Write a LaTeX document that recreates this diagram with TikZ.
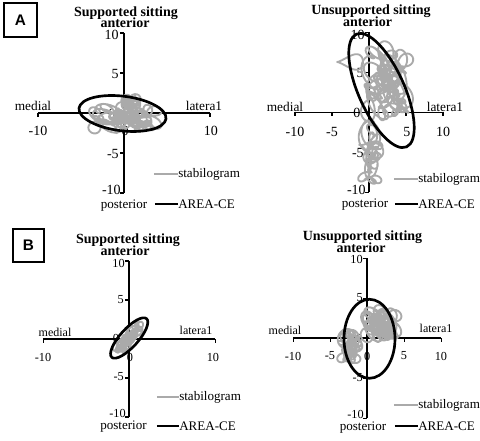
\documentclass[tikz,border=0pt]{standalone}
\usepackage{fontspec}
\setmainfont{Liberation Serif}
\newfontfamily\boxfont{Liberation Sans}
\definecolor{stabgray}{RGB}{170,170,170}
\begin{document}
\begin{tikzpicture}[x=0.75pt,y=-0.75pt,
  axisline/.style={line width=1.3pt, black},
  tickmark/.style={line width=1.1pt, black},
  stab/.style={stabgray, line width=1.4pt, line join=round},
  areace/.style={black, line width=2pt},
  legstab/.style={stabgray, line width=1.6pt},
  legarea/.style={black, line width=2.2pt},
  ticklbl/.style={font=\fontsize{10.5}{12}\selectfont, inner sep=0pt},
  ticklblb/.style={font=\fontsize{9.2}{10}\selectfont, inner sep=0pt},
  dirlbl/.style={font=\fontsize{10}{12}\selectfont, inner sep=0pt},
  dirlblb/.style={font=\fontsize{9}{10}\selectfont, inner sep=0pt},
  ttl/.style={font=\bfseries\fontsize{10.5}{12}\selectfont, inner sep=0pt},
  leg/.style={font=\fontsize{9.8}{11}\selectfont, inner sep=0pt},
  letterbox/.style={draw, line width=1.3pt, inner sep=0pt, font=\boxfont\bfseries\fontsize{11.5}{12}\selectfont}
]
\useasboundingbox (0,0) rectangle (480,441);

% ---------- letter boxes ----------
\node[letterbox, minimum width=24.75pt, minimum height=25.5pt] (boxA) at (20.5,20) {A};
\node[letterbox, minimum width=23.25pt, minimum height=24.75pt] (boxB) at (28.5,245.5) {B};

% =================== Panel A left ===================
\draw[axisline] (38,113) -- (210,113);
\draw[axisline] (124,33) -- (124,193);
\foreach \yy in {33,73,113,153,193} \draw[tickmark] (120,\yy) -- (124,\yy);
\foreach \xx in {38,210} \draw[tickmark] (\xx,113) -- (\xx,117);
\node[ticklbl, anchor=east] (al-y10) at (119,35) {10};
\node[ticklbl, anchor=east] (al-y5) at (119,74) {5};
\node[ticklbl] (al-y0) at (112,114) {0};
\node[ticklbl, anchor=east] (al-ym5) at (119,154) {-5};
\node[ticklbl, anchor=east] (al-ym10) at (121,190) {-10};
\node[ticklbl] (al-xm10) at (38,131) {-10};
\node[ticklbl] (al-x0) at (125,131) {0};
\node[ticklbl] (al-x10) at (211,131) {10};
\node[dirlbl] (al-med) at (33,106) {medial};
\node[dirlbl] (al-lat) at (204,106) {latera1};
\node[ttl] (al-t1) at (126,13) {Supported sitting};
\node[ttl] (al-t2) at (125,23) {anterior};
\node[leg] (al-post) at (124,206) {posterior};
\node[leg, anchor=west] (al-ls) at (178,174) {stabilogram};
\node[leg, anchor=west] (al-la) at (178,204) {AREA-CE};
\coordinate (al-ls0) at (154,174);
\coordinate (al-la0) at (155,204);
\draw[legstab] (al-ls0) -- (al-ls.west);
\draw[legarea] (al-la0) -- (al-la.west);
\draw[stab] plot[smooth, samples=900, domain=0:5000, variable=\t]
  ({125+32*(0.6*sin(0.37*\t)+0.4*sin(0.83*\t+30))+6*cos(3.1*\t)},
   {118+11*(0.6*sin(0.51*\t+60)+0.4*sin(1.13*\t))+5*sin(3.1*\t+20)});
\draw[stab] plot[smooth, samples=300, domain=0:1800, variable=\t]
  ({130+7*(0.6*sin(0.7*\t)+0.4*sin(1.3*\t))+4*cos(4.1*\t)},
   {102+4*(0.6*cos(0.9*\t)+0.4*sin(1.7*\t))+4*sin(4.1*\t)});
\draw[areace, rotate around={-7:(122.5,113.5)}] (122.5,113.5) ellipse [x radius=43.8, y radius=17.3];

% =================== Panel A right ===================
\draw[axisline] (295,112.5) -- (443,112.5);
\draw[axisline] (369,32.5) -- (369,192.5);
\foreach \yy in {32.5,72.5,112.5,152.5,192.5} \draw[tickmark] (365,\yy) -- (369,\yy);
\foreach \xx in {295,332,406,443} \draw[tickmark] (\xx,112.5) -- (\xx,116.5);
\node[ticklbl, anchor=east] (ar-y10) at (365,35) {10};
\node[ticklbl, anchor=east] (ar-y5) at (364,73) {5};
\node[ticklbl] (ar-y0) at (357,113) {0};
\node[ticklbl, anchor=east] (ar-ym5) at (364,153) {-5};
\node[ticklbl, anchor=east] (ar-ym10) at (366,190) {-10};
\node[ticklbl] (ar-xm10) at (295,132) {-10};
\node[ticklbl] (ar-xm5) at (332,132) {-5};
\node[ticklbl] (ar-x5) at (407,132) {5};
\node[ticklbl] (ar-x10) at (443,132) {10};
\node[dirlbl] (ar-med) at (285,107) {medial};
\node[dirlbl] (ar-lat) at (445,107) {latera1};
\node[ttl] (ar-t1) at (371,11.5) {Unsupported sitting};
\node[ttl] (ar-t2) at (367.5,21.5) {anterior};
\node[leg] (ar-post) at (365,205) {posterior};
\node[leg, anchor=west] (ar-ls) at (418,179) {stabilogram};
\node[leg, anchor=west] (ar-la) at (418,204) {AREA-CE};
\coordinate (ar-ls0) at (394,179);
\coordinate (ar-la0) at (395,204);
\draw[legstab] (ar-ls0) -- (ar-ls.west);
\draw[legarea] (ar-la0) -- (ar-la.west);
\draw[stab] plot[smooth, samples=900, domain=0:5000, variable=\t]
  ({387+20*(0.6*sin(0.37*\t)+0.4*sin(0.83*\t+30))+7*cos(3.1*\t)},
   {82+34*(0.6*sin(0.51*\t+60)+0.4*sin(1.13*\t))+7*sin(3.1*\t+20)});
\draw[stab] plot[smooth, samples=400, domain=0:2200, variable=\t]
  ({371+8*(0.6*sin(0.6*\t)+0.4*sin(1.3*\t+20))+5*cos(3.3*\t)},
   {152+32*(0.6*sin(0.45*\t+20)+0.4*sin(1.1*\t))+5*sin(3.3*\t)});
\draw[stab] plot[smooth, samples=80, domain=0:360, variable=\t]
  ({350+13*cos(\t)}, {62+6*sin(\t)+3*sin(2*\t)});
\draw[areace, rotate around={24:(381.5,90.5)}] (381.5,90.5) ellipse [x radius=23, y radius=61.7];

% =================== Panel B left ===================
\draw[axisline] (43.3,339) -- (215.3,339);
\draw[axisline] (129.3,261) -- (129.3,417);
\foreach \yy in {261,300,339,378,417} \draw[tickmark] (125.3,\yy) -- (129.3,\yy);
\foreach \xx in {43.3,215.3} \draw[tickmark] (\xx,339) -- (\xx,343);
\node[ticklblb, anchor=east] (bl-y10) at (125,263) {10};
\node[ticklblb, anchor=east] (bl-y5) at (124,300) {5};
\node[ticklblb] (bl-y0) at (116,338) {0};
\node[ticklblb, anchor=east] (bl-ym5) at (124,377) {-5};
\node[ticklblb, anchor=east] (bl-ym10) at (126,413) {-10};
\node[ticklblb] (bl-xm10) at (43,357) {-10};
\node[ticklblb] (bl-x0) at (130,357) {0};
\node[ticklblb] (bl-x10) at (213,357) {10};
\node[dirlblb] (bl-med) at (55,332) {medial};
\node[dirlblb] (bl-lat) at (196,330) {latera1};
\node[ttl] (bl-t1) at (128,240.5) {Supported sitting};
\node[ttl] (bl-t2) at (125,250.5) {anterior};
\node[leg] (bl-post) at (123.5,427) {posterior};
\node[leg, anchor=west] (bl-ls) at (179,397) {stabilogram};
\node[leg, anchor=west] (bl-la) at (179,426) {AREA-CE};
\coordinate (bl-ls0) at (157,397);
\coordinate (bl-la0) at (157,426);
\draw[legstab] (bl-ls0) -- (bl-ls.west);
\draw[legarea] (bl-la0) -- (bl-la.west);
\begin{scope}[rotate around={-42:(129.2,338)}]
\draw[stab] plot[smooth, samples=900, domain=0:5000, variable=\t]
  ({129.2+4*(0.6*sin(0.37*\t)+0.4*sin(0.83*\t+30))+3*cos(3.1*\t)},
   {338+17*(0.6*sin(0.51*\t+60)+0.4*sin(1.13*\t))+3.5*sin(3.1*\t+20)});
\draw[areace] (129.2,338) ellipse [x radius=9, y radius=26];
\end{scope}

% =================== Panel B right ===================
\draw[axisline] (293.3,338.3) -- (441.3,338.3);
\draw[axisline] (367.3,258.3) -- (367.3,418.3);
\foreach \yy in {258.3,298.3,338.3,378.3,418.3} \draw[tickmark] (363.3,\yy) -- (367.3,\yy);
\foreach \xx in {293.3,330.3,404.3,441.3} \draw[tickmark] (\xx,338.3) -- (\xx,342.3);
\node[ticklblb, anchor=east] (br-y10) at (363,259) {10};
\node[ticklblb, anchor=east] (br-y5) at (363,298) {5};
\node[ticklblb] (br-y0) at (359,338) {0};
\node[ticklblb, anchor=east] (br-ym5) at (363,378) {-5};
\node[ticklblb, anchor=east] (br-ym10) at (364,414) {-10};
\node[ticklblb] (br-xm10) at (293,356) {-10};
\node[ticklblb] (br-xm5) at (330,356) {-5};
\node[ticklblb] (br-x0) at (367.3,356) {0};
\node[ticklblb] (br-x5) at (404,356) {5};
\node[ticklblb] (br-x10) at (441,356) {10};
\node[dirlblb] (br-med) at (285,330) {medial};
\node[dirlblb] (br-lat) at (436,328) {latera1};
\node[ttl] (br-t1) at (362.5,237.5) {Unsupported sitting};
\node[ttl] (br-t2) at (361,247.5) {anterior};
\node[leg] (br-post) at (363,428) {posterior};
\node[leg, anchor=west] (br-ls) at (418,405) {stabilogram};
\node[leg, anchor=west] (br-la) at (418,426) {AREA-CE};
\coordinate (br-ls0) at (394,405);
\coordinate (br-la0) at (395,426);
\draw[legstab] (br-ls0) -- (br-ls.west);
\draw[legarea] (br-la0) -- (br-la.west);
\draw[stab] plot[smooth, samples=900, domain=0:5000, variable=\t]
  ({381+15*(0.6*sin(0.37*\t)+0.4*sin(0.83*\t+30))+6*cos(3.1*\t)},
   {324+13*(0.6*sin(0.51*\t+60)+0.4*sin(1.13*\t))+6*sin(3.1*\t+20)});
\draw[stab] plot[smooth, samples=450, domain=0:2500, variable=\t]
  ({350+8*(0.6*sin(0.6*\t)+0.4*sin(1.3*\t+20))+5*cos(3.3*\t)},
   {346+15*(0.6*sin(0.45*\t+20)+0.4*sin(1.1*\t))+5*sin(3.3*\t)});
\draw[areace] (369.5,338.8) ellipse [x radius=25.5, y radius=39.5];

\end{tikzpicture}
\end{document}
